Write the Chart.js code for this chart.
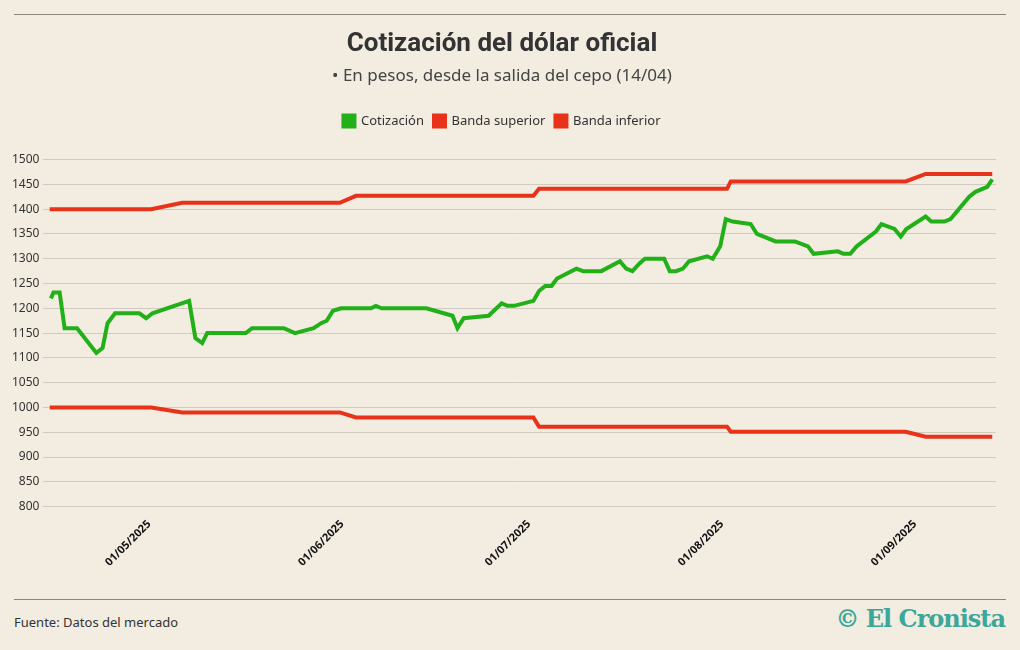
<!DOCTYPE html>
<html><head><meta charset="utf-8">
<script src="https://cdn.jsdelivr.net/npm/chart.js@4.4.1/dist/chart.umd.min.js"></script>
<style>
body{margin:0;background:#f2ece1;font-family:"Noto Sans",sans-serif;}
#wrap{position:absolute;left:0;top:15px;width:1020px;height:583px;}
.rule{position:absolute;left:14px;width:992px;height:1px;background:#8a8680;}
#src{position:absolute;left:14px;top:613px;font-size:13px;color:#333;}
#logo{position:absolute;right:15px;top:604px;font-family:"DejaVu Serif",serif;font-weight:bold;font-size:24px;color:#3aa79a;letter-spacing:-1px;}
</style></head><body>
<div class="rule" style="top:14px"></div>
<div id="wrap"><canvas id="c"></canvas></div>
<div class="rule" style="top:599px"></div>
<div id="src">Fuente: Datos del mercado</div>
<div id="logo">&#169; El Cronista</div>
<script>
// days counted from 14/04/2025
const START = new Date(2025, 3, 14);
const cotDays = [1.2,1.6,2.6,3.4,5.4,8.5,9.5,10.3,11.5,15.4,16.5,17.5,23.4,24.4,25.5,26.3,32.5,33.5,38.6,40.4,43.4,44.6,45.5,46.5,47.8,52.6,53.4,54.3,61.5,65.7,66.5,67.5,71.5,73.6,74.5,75.6,78.7,79.6,80.6,81.6,82.5,85.6,86.7,89.6,92.6,93.6,94.6,95.7,96.6,99.7,100.6,101.6,102.7,103.7,106.6,107.5,108.7,109.6,110.7,113.6,114.6,117.6,120.7,122.8,123.7,127.6,128.5,129.6,130.6,133.7,134.6,136.7,137.7,138.6,141.7,142.6,144.7,145.7,148.7,149.7,151.6,152.4];
const cotValues = [1220,1232,1232,1160,1160,1110,1120,1170,1190,1190,1180,1190,1215,1140,1130,1150,1150,1160,1160,1150,1160,1170,1175,1195,1200,1200,1205,1200,1200,1185,1160,1180,1185,1210,1205,1205,1215,1235,1245,1245,1260,1280,1275,1275,1295,1280,1275,1290,1300,1300,1275,1275,1280,1295,1305,1300,1325,1380,1375,1370,1350,1335,1335,1325,1310,1315,1310,1310,1325,1355,1370,1360,1345,1360,1385,1375,1375,1380,1425,1435,1445,1460];
const bandDays = [1,17.3,22.3,47.6,50.2,78.7,79.6,109.8,110.4,138.5,141.7,152.4];
const upperValues = [1400,1400,1413,1413,1427,1427,1441,1441,1456,1456,1471,1471];
const lowerValues = [1000,1000,990,990,980,980,961,961,951,951,941,941];
const monthTicks = [17,48,78,109,140]; // 01/05 .. 01/09
const yTicks = [800,850,900,950,1000,1050,1100,1150,1200,1250,1300,1350,1400,1450,1500];

const pts = (d, v) => d.map((x, i) => ({x, y: v[i]}));
const fmt = d => { const t = new Date(START); t.setDate(t.getDate() + d);
  return String(t.getDate()).padStart(2,'0') + '/' + String(t.getMonth()+1).padStart(2,'0') + '/' + t.getFullYear(); };

new Chart(document.getElementById('c'), {
  type: 'line',
  data: { datasets: [
    {label:'Cotización', data: pts(cotDays, cotValues), borderColor:'#22b019', backgroundColor:'#22b019', borderWidth:4, pointRadius:0, tension:0},
    {label:'Banda superior', data: pts(bandDays, upperValues), borderColor:'#e8321a', backgroundColor:'#e8321a', borderWidth:4, pointRadius:0},
    {label:'Banda inferior', data: pts(bandDays, lowerValues), borderColor:'#e8321a', backgroundColor:'#e8321a', borderWidth:4, pointRadius:0}
  ]},
  options: {
    responsive:true, maintainAspectRatio:false, animation:false,
    layout:{padding:{left:8,right:24,top:8,bottom:26}},
    plugins:{
      title:{display:true, text:'Cotización del dólar oficial', color:'#333', font:{family:'Roboto', size:26, weight:'bold'}, padding:{top:6,bottom:6}},
      subtitle:{display:true, text:'• En pesos, desde la salida del cepo (14/04)', color:'#444', font:{family:'Noto Sans', size:17}, padding:{bottom:18}},
      legend:{labels:{color:'#333', boxWidth:11, boxHeight:11, padding:10, font:{family:'Noto Sans', size:13}}},
      tooltip:{enabled:false}
    },
    scales:{
      x:{type:'linear', min:0, max:153,
        afterBuildTicks: a => { a.ticks = monthTicks.map(v => ({value:v})); },
        ticks:{color:'#111', maxRotation:45, minRotation:45, font:{family:'Noto Sans', size:11, weight:'bold'}, callback: v => fmt(v)},
        grid:{display:false}, border:{display:false}},
      y:{min:800, max:1500,
        afterBuildTicks: a => { a.ticks = yTicks.map(v => ({value:v})); },
        ticks:{color:'#333', font:{family:'Noto Sans', size:12}, padding:4, callback: v => String(v)},
        grid:{color:'#cfcac2', drawTicks:false}, border:{display:false}},
    }
  },
  plugins:[{id:'legendGap', beforeInit(c){ const f=c.legend.fit; c.legend.fit=function(){ f.bind(c.legend)(); this.height+=22; }; }}]
});
</script></body></html>
